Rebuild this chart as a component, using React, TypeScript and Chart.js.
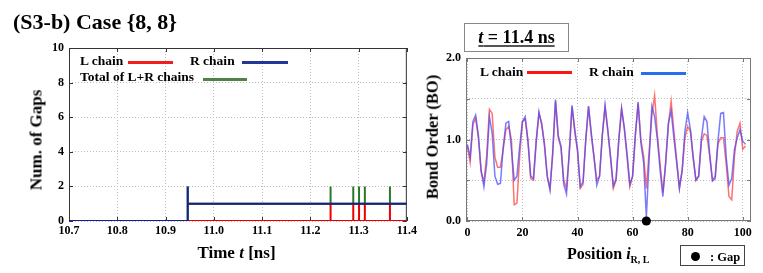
import React, { useEffect, useRef } from 'react';
import { Chart, registerables } from 'chart.js';
Chart.register(...registerables);

const SERIF = "'Liberation Serif', 'Times New Roman', serif";

// ---------- Left chart data (Num. of Gaps vs time) ----------
const timeTicks = [10.7, 10.8, 10.9, 11.0, 11.1, 11.2, 11.3, 11.4];
const gapTicks = [0, 2, 4, 6, 8, 10];
const timeStart = 10.7;
const timeEnd = 11.4;
const rOnsetTime = 10.946;
const rOnsetPeak = 2;
const rLevel = 1;
const lSpikeTimes = [11.242, 11.289, 11.301, 11.313, 11.365];
const lSpikeLevel = 1;
const totalSpikeLevel = 2;

// ---------- Right chart data (Bond order vs position) ----------
const posTicks = [0, 20, 40, 60, 80, 100];
const boTicks = [0, 0.5, 1.0, 1.5, 2.0];
const boTickLabels = ['0.0', '', '1.0', '', '2.0'];
const rChainBO = [
  0.94, 0.78, 1.22, 1.3, 1.05, 0.62, 0.42, 0.7, 1.28, 1.08,
  0.55, 0.45, 0.46, 0.9, 1.2, 1.22, 0.88, 0.5, 0.55, 0.92,
  1.22, 1.28, 0.98, 0.55, 0.52, 0.98, 1.34, 1.18, 0.92, 0.55,
  0.38, 0.85, 1.49, 1.05, 0.92, 0.45, 0.33, 0.85, 1.42, 1.12,
  0.88, 0.42, 0.48, 1.0, 1.41, 1.08, 0.78, 0.44, 0.55, 1.05,
  1.42, 1.12, 0.78, 0.43, 0.52, 1.0, 1.38, 1.15, 0.82, 0.45,
  0.55, 1.05, 1.46, 0.96, 0.72, 0.05, 0.75, 1.41, 1.28, 1.0,
  0.62, 0.3, 0.72, 1.2, 1.35, 1.02, 0.72, 0.4, 0.62, 1.1,
  1.33, 1.12, 0.78, 0.5, 0.55, 1.02, 1.28, 1.22, 0.82, 0.49,
  0.52, 0.98, 1.32, 1.33, 0.78, 0.44, 0.52, 0.88, 1.02, 1.12,
  0.98, 0.94,
];
const lChainBO = [
  0.92, 0.72, 1.18, 1.26, 1.02, 0.6, 0.48, 0.8, 1.37, 1.32,
  0.78, 0.66, 0.66, 0.88, 1.12, 1.16, 1.0, 0.2, 0.22, 0.8,
  1.22, 1.25, 0.98, 0.52, 0.5, 0.98, 1.32, 1.2, 0.95, 0.55,
  0.4, 0.82, 1.47, 1.02, 0.9, 0.5, 0.4, 0.82, 1.4, 1.1,
  0.85, 0.4, 0.45, 1.0, 1.4, 1.05, 0.78, 0.5, 0.55, 1.05,
  1.4, 1.1, 0.78, 0.4, 0.5, 1.0, 1.38, 1.12, 0.78, 0.42,
  0.55, 1.05, 1.44, 1.0, 0.8, 0.4, 0.85, 1.3, 1.54, 1.05,
  0.7, 0.35, 0.7, 1.18, 1.47, 1.1, 0.75, 0.4, 0.62, 1.02,
  1.16, 1.1, 0.78, 0.5, 0.55, 0.98, 1.07, 1.05, 0.8, 0.5,
  0.55, 0.95, 1.02, 1.02, 0.7, 0.3, 0.26, 0.8, 1.1, 1.2,
  0.88, 0.92,
];
const gapPositions = [65];
const gapValues = [0];

// ---------- build point lists ----------
const rChainSteps = [
  { x: timeStart, y: 0 },
  { x: rOnsetTime, y: 0 },
  { x: rOnsetTime, y: rOnsetPeak },
  { x: rOnsetTime, y: rLevel },
  { x: timeEnd, y: rLevel },
];
const lChainSteps = [{ x: timeStart, y: 0 }];
lSpikeTimes.forEach((t) => {
  lChainSteps.push({ x: t, y: 0 }, { x: t, y: lSpikeLevel }, { x: t, y: 0 });
});
lChainSteps.push({ x: timeEnd, y: 0 });
const totalSteps = [
  { x: timeStart, y: 0 },
  { x: rOnsetTime, y: 0 },
  { x: rOnsetTime, y: rOnsetPeak },
  { x: rOnsetTime, y: rLevel },
];
lSpikeTimes.forEach((t) => {
  totalSteps.push({ x: t, y: rLevel }, { x: t, y: totalSpikeLevel }, { x: t, y: rLevel });
});
totalSteps.push({ x: timeEnd, y: rLevel });

const framePlugin = {
  id: 'frame',
  beforeDatasetsDraw(chart: any, _args: any, opts: any) {
    const { ctx, chartArea: a, scales } = chart;
    ctx.save();
    ctx.strokeStyle = opts.color;
    ctx.lineWidth = 1;
    ctx.setLineDash([]);
    ctx.strokeRect(a.left + 0.5, a.top + 0.5, a.right - a.left - 1, a.bottom - a.top - 1);
    const L = opts.tickLen;
    ctx.beginPath();
    for (const t of scales.x.ticks) {
      const px = Math.round(scales.x.getPixelForValue(t.value)) + 0.5;
      ctx.moveTo(px, a.bottom);
      ctx.lineTo(px, a.bottom - L);
      ctx.moveTo(px, a.top);
      ctx.lineTo(px, a.top + L);
    }
    for (const t of scales.y.ticks) {
      const py = Math.round(scales.y.getPixelForValue(t.value)) + 0.5;
      ctx.moveTo(a.left, py);
      ctx.lineTo(a.left + L, py);
      ctx.moveTo(a.right, py);
      ctx.lineTo(a.right - L, py);
    }
    ctx.stroke();
    ctx.restore();
  },
};

const tickFont = { family: SERIF, size: 12, weight: 'bold' as const };

const Txt = (p: { left: number; top: number; size: number; children: any; style?: any }) => (
  <div
    style={{
      position: 'absolute',
      left: p.left,
      top: p.top,
      fontSize: p.size,
      lineHeight: 1,
      fontFamily: SERIF,
      fontWeight: 'bold',
      whiteSpace: 'nowrap',
      color: '#000',
      ...p.style,
    }}
  >
    {p.children}
  </div>
);

const Bar = (p: { left: number; top: number; width: number; color: string; h?: number }) => (
  <div style={{ position: 'absolute', left: p.left, top: p.top, width: p.width, height: p.h ?? 3, background: p.color }} />
);

export default function App() {
  const leftRef = useRef<HTMLCanvasElement>(null);
  const rightRef = useRef<HTMLCanvasElement>(null);

  useEffect(() => {
    const left = new Chart(leftRef.current as HTMLCanvasElement, {
      type: 'scatter',
      data: {
        datasets: [
          { label: 'R chain', data: rChainSteps, showLine: true, borderColor: 'rgb(25,30,140)', borderWidth: 2, pointRadius: 0 },
          { label: 'L chain', data: lChainSteps, showLine: true, borderColor: 'rgb(235,0,0)', borderWidth: 2, pointRadius: 0 },
          { label: 'Total of L+R chains', data: totalSteps, showLine: true, borderColor: 'rgb(40,120,40)', borderWidth: 2, pointRadius: 0 },
        ],
      },
      options: {
        animation: false,
        responsive: false,
        layout: { padding: { left: 0, right: 9, top: 48, bottom: 0 } },
        plugins: { legend: { display: false }, tooltip: { enabled: false }, frame: { color: '#333', tickLen: 4 } } as any,
        scales: {
          x: {
            type: 'linear',
            min: timeStart,
            max: timeEnd,
            afterBuildTicks: (s: any) => { s.ticks = timeTicks.map((v) => ({ value: v })); },
            afterFit: (s: any) => { s.height = 52; },
            ticks: { font: tickFont, color: '#000', padding: 3, maxRotation: 0, autoSkip: false, callback: (v: any) => Number(v).toFixed(1) },
            grid: { color: '#bdbdbd', drawTicks: false },
            border: { display: false, dash: [1, 2] },
          },
          y: {
            type: 'linear',
            min: 0,
            max: 10,
            afterBuildTicks: (s: any) => { s.ticks = gapTicks.map((v) => ({ value: v })); },
            afterFit: (s: any) => { s.width = 69; },
            ticks: { font: tickFont, color: '#000', padding: 5, autoSkip: false },
            grid: { color: '#bdbdbd', drawTicks: false },
            border: { display: false, dash: [1, 2] },
          },
        },
      },
      plugins: [framePlugin],
    } as any);

    const right = new Chart(rightRef.current as HTMLCanvasElement, {
      type: 'scatter',
      data: {
        datasets: [
          { label: 'Gap', data: gapPositions.map((p, i) => ({ x: p, y: gapValues[i] })), pointRadius: 4.6, pointBackgroundColor: '#000', pointBorderWidth: 0, clip: false },
          { label: 'R chain', data: rChainBO.map((v, i) => ({ x: i, y: v })), showLine: true, borderColor: 'rgba(70,70,255,0.72)', borderWidth: 1.5, pointRadius: 0 },
          { label: 'L chain', data: lChainBO.map((v, i) => ({ x: i, y: v })), showLine: true, borderColor: 'rgba(255,60,60,0.72)', borderWidth: 1.5, pointRadius: 0 },
        ],
      },
      options: {
        animation: false,
        responsive: false,
        layout: { padding: { left: 0, right: 12, top: 58, bottom: 0 } },
        plugins: { legend: { display: false }, tooltip: { enabled: false }, frame: { color: '#777', tickLen: 4 } } as any,
        scales: {
          x: {
            type: 'linear',
            min: -0.5,
            max: 103,
            afterBuildTicks: (s: any) => { s.ticks = posTicks.map((v) => ({ value: v })); },
            afterFit: (s: any) => { s.height = 52; },
            ticks: { font: tickFont, color: '#000', padding: 5, maxRotation: 0, autoSkip: false, callback: (v: any) => String(v) },
            grid: { color: '#bdbdbd', drawTicks: false },
            border: { display: false, dash: [1, 2] },
          },
          y: {
            type: 'linear',
            min: 0,
            max: 2,
            afterBuildTicks: (s: any) => { s.ticks = boTicks.map((v) => ({ value: v })); },
            afterFit: (s: any) => { s.width = 46; },
            ticks: { font: tickFont, color: '#000', padding: 5, autoSkip: false, callback: (_v: any, i: number) => boTickLabels[i] },
            grid: { color: '#bdbdbd', drawTicks: false },
            border: { display: false, dash: [1, 2] },
          },
        },
      },
      plugins: [framePlugin],
    } as any);

    return () => {
      left.destroy();
      right.destroy();
    };
  }, []);

  return (
    <div style={{ position: 'absolute', left: 0, top: 0, width: 763, height: 273, overflow: 'hidden', background: '#fff' }}>
      <canvas ref={leftRef} width={420} height={273} style={{ position: 'absolute', left: 0, top: 0, width: 420, height: 273 }} />
      <canvas ref={rightRef} width={343} height={273} style={{ position: 'absolute', left: 420, top: 0, width: 343, height: 273 }} />

      <Txt left={13} top={11} size={22}>(S3-b) Case {'{8, 8}'}</Txt>

      {/* left legend */}
      <Txt left={80} top={53.7} size={13.5}>L chain</Txt>
      <Bar left={128} top={60.5} width={45} color="rgb(240,30,30)" />
      <Txt left={190} top={53.7} size={13.5}>R chain</Txt>
      <Bar left={242} top={60.5} width={46} color="rgb(35,55,150)" />
      <Txt left={80} top={70.2} size={13.5}>Total of L+R chains</Txt>
      <Bar left={203} top={78.3} width={44} color="rgb(80,130,70)" />

      {/* left axis titles */}
      <Txt left={236.5} top={243.8} size={17} style={{ transform: 'translateX(-50%)' }}>
        Time <i>t</i> [ns]
      </Txt>
      <Txt left={36} top={140} size={17} style={{ transform: 'translate(-50%, -50%) rotate(-90deg)' }}>
        Num. of Gaps
      </Txt>

      {/* time box */}
      <div style={{ position: 'absolute', left: 464, top: 23, width: 105, height: 29, boxSizing: 'border-box', border: '1px solid #888' }} />
      <Txt left={516.5} top={28.4} size={18} style={{ transform: 'translateX(-50%)', textDecoration: 'underline', textDecorationThickness: '2px', textUnderlineOffset: '2px', textDecorationColor: '#555' }}>
        <i>t</i> = 11.4 ns
      </Txt>

      {/* right legend */}
      <Txt left={480} top={64.7} size={13.5}>L chain</Txt>
      <Bar left={527} top={70.8} width={45} color="rgb(255,20,20)" />
      <Txt left={589} top={65.2} size={13.5}>R chain</Txt>
      <Bar left={641} top={72} width={45} color="rgb(40,110,240)" />

      {/* right axis titles */}
      <Txt left={432.5} top={136.5} size={16.5} style={{ transform: 'translate(-50%, -50%) rotate(-90deg)' }}>
        Bond Order (BO)
      </Txt>
      <Txt left={567} top={245.6} size={16}>
        Position <i>i</i>
        <span style={{ fontSize: 10, position: 'relative', top: 4 }}>R, L</span>
      </Txt>

      {/* gap legend */}
      <div style={{ position: 'absolute', left: 680, top: 245, width: 65, height: 21, boxSizing: 'border-box', border: '1px solid #444' }} />
      <div style={{ position: 'absolute', left: 691, top: 251.5, width: 9, height: 9, borderRadius: '50%', background: '#000' }} />
      <Txt left={710} top={250.5} size={12.5}>: Gap</Txt>
    </div>
  );
}
